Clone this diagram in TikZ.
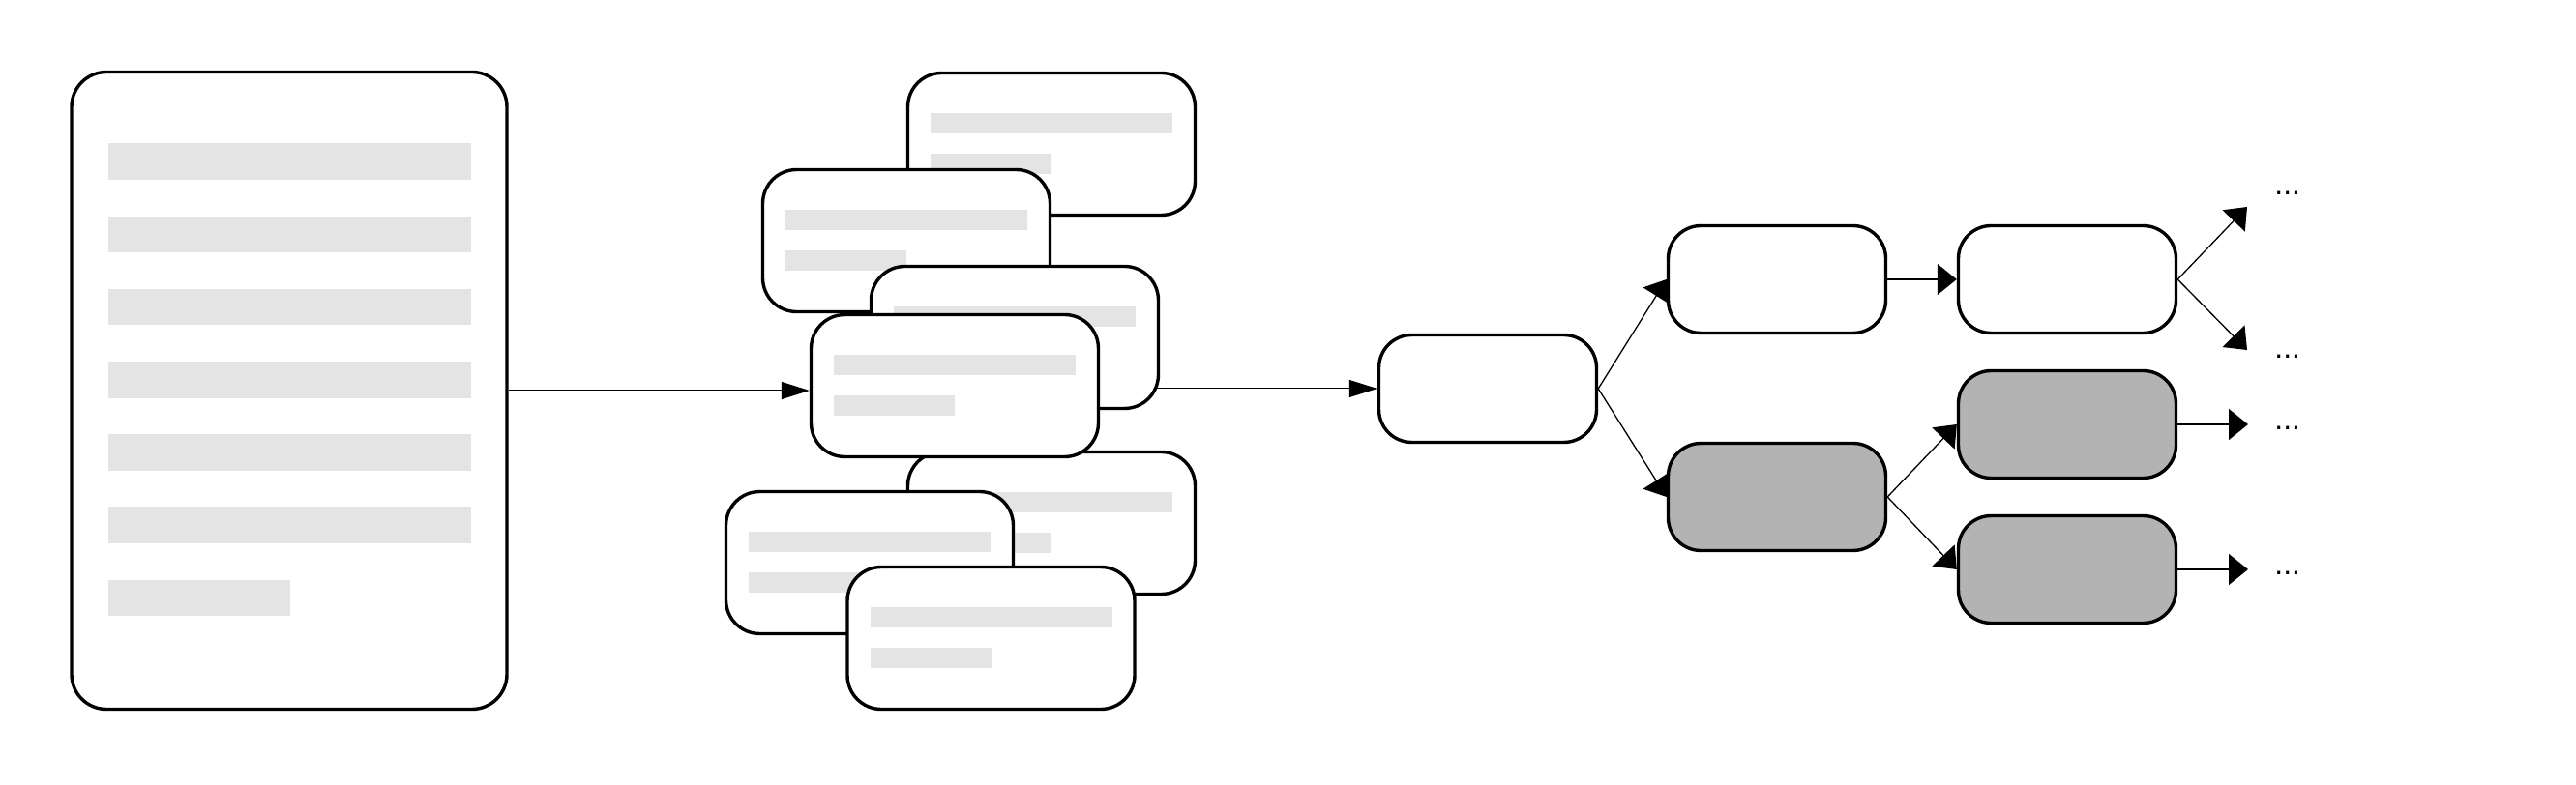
\documentclass[tikz,border=0pt]{standalone}
\usepackage{xcolor}
\usepackage{fontspec}
\usepackage{tikz}
\usetikzlibrary{arrows.meta,positioning,calc,backgrounds}
\newfontfamily\dotfont{Liberation Sans}
\definecolor{barg}{HTML}{E4E4E4}
\definecolor{nodeg}{HTML}{B3B3B3}
\tikzset{
  page/.style={draw, line width=1.7pt, rounded corners=18pt, fill=white,
               minimum width=225pt, minimum height=329.5pt, inner sep=0pt},
  card/.style={draw, line width=1.7pt, rounded corners=17.5pt, fill=white,
               minimum width=148.5pt, minimum height=73.5pt, inner sep=0pt,
               path picture={
                 \fill[barg, sharp corners] ([shift={(-62.5,-16)}]path picture bounding box.center) rectangle ++(125,10.5);
                 \fill[barg, sharp corners] ([shift={(-62.5,5)}]path picture bounding box.center) rectangle ++(62.5,10.5);}},
  tnode/.style={draw, line width=1.7pt, rounded corners=17pt, fill=#1,
                minimum width=112.5pt, minimum height=55.5pt, inner sep=0pt},
  tnode/.default=white,
  flow/.style={-{Triangle[length=14.5pt,width=9pt]}, line width=0.5pt},
  branch/.style={-{Triangle[length=10pt,width=16pt]}, line width=0.65pt},
  more/.style={font=\dotfont\fontsize{16}{18}\selectfont, inner sep=0pt, anchor=base west}
}
\begin{document}
\begin{tikzpicture}[x=1pt, y=-1pt]
  \useasboundingbox (0,0) rectangle (1331.5,406);
  % input document
  \node[page] (doc) at (149.5,202) {};
  \foreach \i in {0,...,5}
    \fill[barg] (56,74.25+37.6*\i) rectangle ++(187.5,18.75);
  \fill[barg] (56,299.85) rectangle ++(94,18.75);
  % chunks
  \node[card] (c1) at (543.5,74.5) {};
  \node[card] (c2) at (468.5,124.5) {};
  \node[card] (c3) at (524.5,174.5) {};
  \node[card] (c5) at (543.5,270.5) {};
  \node[card] (c4) at (493.5,199.5) {};
  \node[card] (c6) at (449.5,291) {};
  \node[card] (c7) at (512.25,330) {};
  \draw[flow] (doc.east) -- (doc.east -| c4.west);
  % tree
  \node[tnode] (root) at (769,201) {};
  \node[tnode] (t1) at (918.5,144.5) {};
  \node[tnode=nodeg] (t2) at (918.5,257) {};
  \node[tnode] (t3) at (1068.5,144.5) {};
  \node[tnode=nodeg] (t4) at (1068.5,219.5) {};
  \node[tnode=nodeg] (t5) at (1068.5,294.5) {};
  \begin{scope}[on background layer]
    \draw[flow] (c4.east |- root.west) -- (root.west);
  \end{scope}
  \draw[branch] (root.east) -- (t1.west);
  \draw[branch] (root.east) -- (t2.west);
  \draw[branch] (t1) -- (t3);
  \draw[branch] (t2.east) -- (t4.west);
  \draw[branch] (t2.east) -- (t5.west);
  \coordinate (e1) at (1161.5,107);
  \coordinate (e2) at (1161.5,181);
  \coordinate (e3) at (1162,219.5);
  \coordinate (e4) at (1162,294.5);
  \draw[branch] (t3.east) -- (e1);
  \draw[branch] (t3.east) -- (e2);
  \draw[branch] (t4) -- (e3);
  \draw[branch] (t5) -- (e4);
  \node[more] (m1) at (1175.5,101) {...};
  \node[more] (m2) at (1175.5,185.5) {...};
  \node[more] (m3) at (1175.5,222.5) {...};
  \node[more] (m4) at (1175.5,297.5) {...};
\end{tikzpicture}
\end{document}
